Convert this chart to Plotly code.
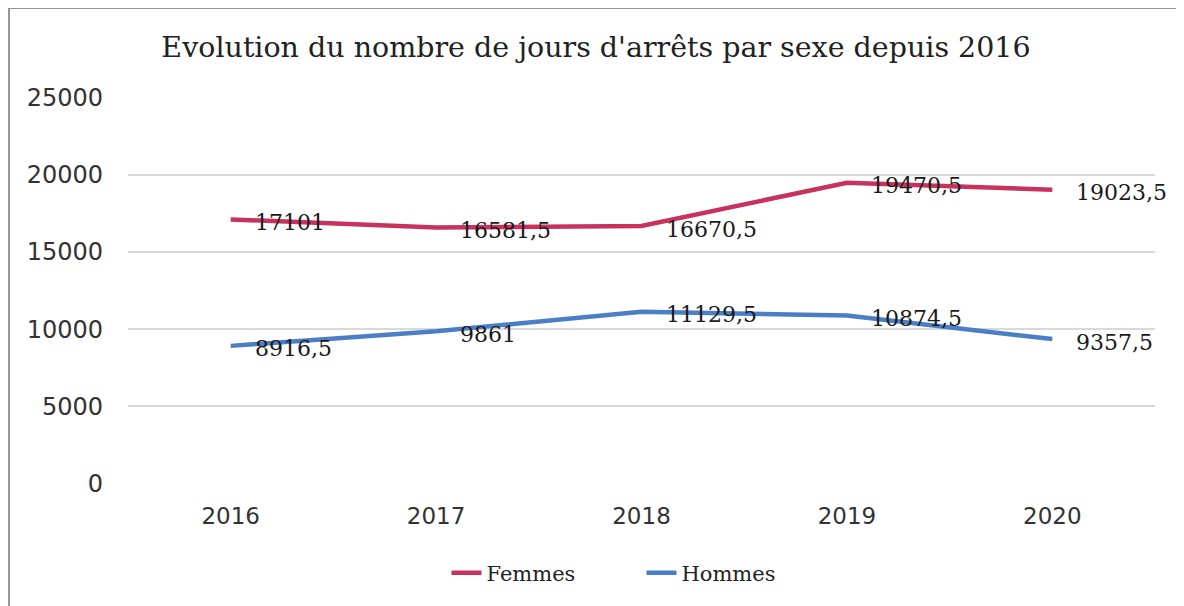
import plotly.graph_objects as go

years = ["2016", "2017", "2018", "2019", "2020"]
femmes = [17101, 16581.5, 16670.5, 19470.5, 19023.5]
hommes = [8916.5, 9861, 11129.5, 10874.5, 9357.5]
series_names = ["Femmes", "Hommes"]
colors = ["#C8325F", "#4A7EC6"]
y_ticks = [0, 5000, 10000, 15000, 20000, 25000]
title_text = "Evolution du nombre de jours d'arrêts par sexe depuis 2016"

# page has an 8px body margin, so the figure is drawn 8px right/down
W, H = 1176, 598
ML, MR, MT, MB = 120, 29, 89, 122
pw = W - ML - MR
ph = H - MT - MB

def fmt(v):
    s = f"{v:.1f}".rstrip("0").rstrip(".")
    return s.replace(".", ",")

fig = go.Figure()
for name, vals, col in zip(series_names, [femmes, hommes], colors):
    fig.add_trace(go.Scatter(
        x=years, y=vals, name=name, mode="lines",
        line=dict(color=col, width=4.5, shape="linear"),
        hoverinfo="skip",
    ))
    for i, yv in enumerate(vals):
        fig.add_annotation(
            x=i, y=yv, xref="x", yref="y", text=fmt(yv), showarrow=False,
            xanchor="left", yanchor="middle", xshift=22, yshift=-3,
            font=dict(family="DejaVu Serif", size=22, color="#1a1a1a"),
        )

# outer frame of the chart
fig.add_shape(
    type="rect", xref="paper", yref="paper",
    x0=(1 - ML) / pw, x1=(1174 - ML) / pw,
    y0=(H - MB - 700) / ph, y1=(H - MB - 0) / ph,
    line=dict(color="#9C948E", width=2), fillcolor="rgba(0,0,0,0)", layer="below",
)

fig.update_layout(
    width=W, height=H,
    margin=dict(l=ML, r=MR, t=MT, b=MB),
    paper_bgcolor="white", plot_bgcolor="white",
    title=dict(text=title_text, x=0.5, xanchor="center", y=1 - 39 / H, yanchor="middle",
               font=dict(family="DejaVu Serif", size=28.5, color="#222222")),
    xaxis=dict(type="category", range=[-0.5, 4.5], showgrid=False, showline=False, zeroline=False,
               ticks="", ticklabelstandoff=16,
               tickfont=dict(family="DejaVu Sans", size=23, color="#333333")),
    yaxis=dict(range=[-20, 25020], tickvals=y_ticks, ticktext=[str(t) for t in y_ticks],
               showgrid=True, gridcolor="#D9D9D9", gridwidth=1.5, zeroline=False,
               showline=False, ticks="", ticklabelstandoff=24,
               tickfont=dict(family="DejaVu Sans", size=24, color="#333333")),
    legend=dict(orientation="h", x=0.5, xanchor="center", y=1 - 565 / H, yref="container",
                yanchor="middle", font=dict(family="DejaVu Serif", size=21, color="#222222"),
                entrywidth=150, entrywidthmode="pixels"),
    showlegend=True,
)

fig.write_html("out.html")
